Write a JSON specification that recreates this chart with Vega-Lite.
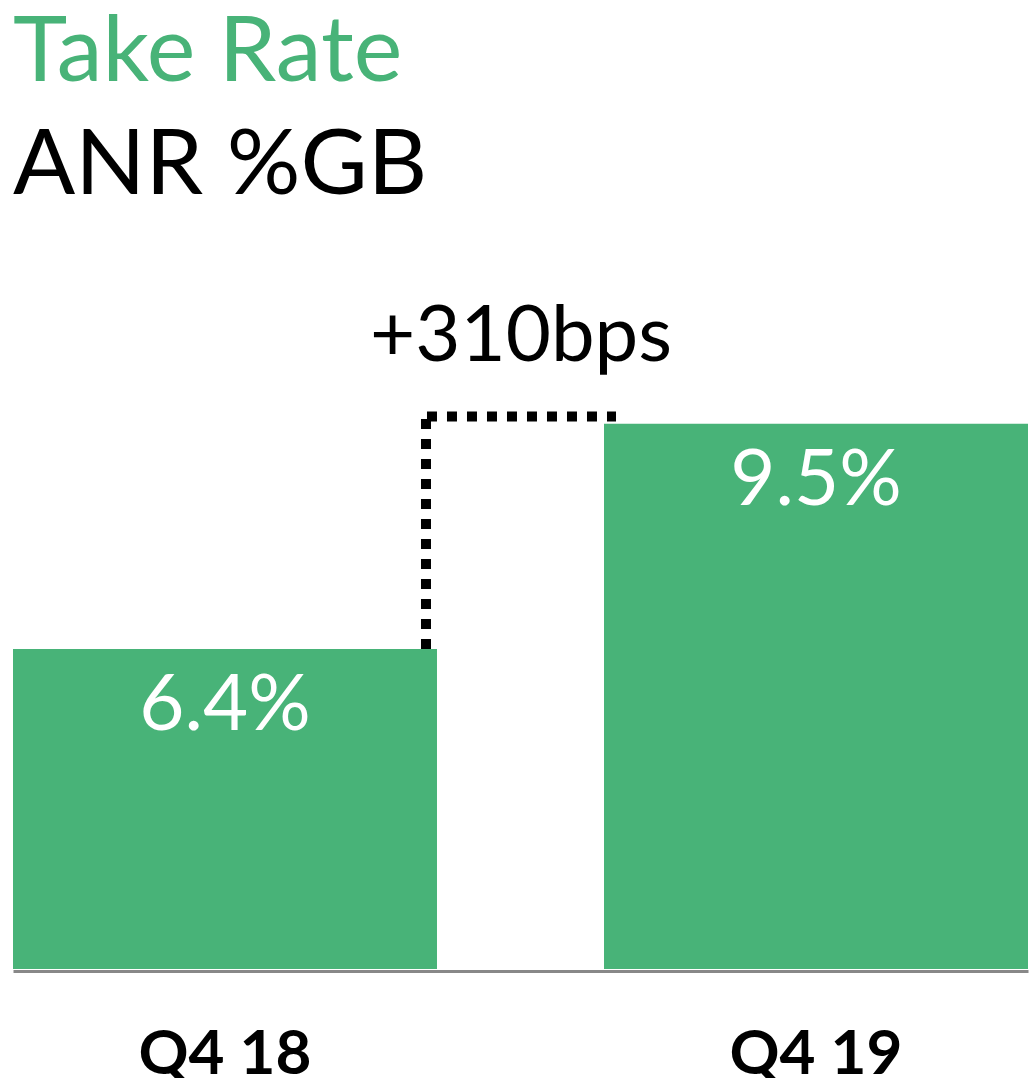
{
  "$schema": "https://vega.github.io/schema/vega-lite/v6.json",
  "width": 1015,
  "height": 618,
  "padding": {"left": 13, "right": 2, "top": 7, "bottom": 0},
  "background": "white",
  "config": {
    "view": {"stroke": null},
    "font": "Lato"
  },
  "title": {
    "text": "Take Rate",
    "subtitle": "ANR %GB",
    "anchor": "start",
    "frame": "group",
    "font": "Lato",
    "fontSize": 92,
    "fontWeight": "normal",
    "color": "#48B378",
    "subtitleFont": "Lato",
    "subtitleFontSize": 92,
    "subtitleColor": "#000000",
    "subtitlePadding": 21,
    "offset": 86
  },
  "datasets": {
    "bars": [
      {"quarter": "Q4 18", "value": 6.4, "label": "6.4%"},
      {"quarter": "Q4 19", "value": 9.5, "label": "9.5%"}
    ],
    "change": [
      {"quarter": "Q4 18", "to": "Q4 19", "start": 6.4, "end": 9.6, "textpos": 10.36, "text": "+310bps"}
    ]
  },
  "layer": [
    {
      "data": {"name": "bars"},
      "mark": {"type": "bar", "color": "#48B378"},
      "encoding": {
        "x": {
          "field": "quarter",
          "type": "nominal",
          "scale": {"paddingInner": 0.2826, "paddingOuter": 0},
          "axis": {
            "title": null,
            "labelAngle": 0,
            "labelFont": "Lato",
            "labelFontSize": 62,
            "labelFontWeight": "bold",
            "labelColor": "#000000",
            "labelPadding": 53,
            "ticks": false,
            "grid": false,
            "domainColor": "#888888",
            "domainWidth": 3,
            "offset": 2,
            "zindex": 1
          }
        },
        "y": {
          "field": "value",
          "type": "quantitative",
          "scale": {"domain": [2, 10.5], "zero": false, "nice": false, "clamp": true},
          "axis": null
        }
      }
    },
    {
      "data": {"name": "change"},
      "mark": {"type": "rule", "color": "#000000", "strokeWidth": 10, "strokeDash": [10, 10], "strokeCap": "butt", "xOffset": -11},
      "encoding": {
        "x": {"field": "quarter", "type": "nominal", "bandPosition": 1},
        "y": {"field": "start", "type": "quantitative"},
        "y2": {"field": "end"}
      }
    },
    {
      "data": {"name": "change"},
      "mark": {"type": "rule", "color": "#000000", "strokeWidth": 10, "strokeDash": [10, 10], "strokeCap": "butt", "xOffset": -10, "x2Offset": -200},
      "encoding": {
        "x": {"field": "quarter", "type": "nominal", "bandPosition": 1},
        "x2": {"field": "to"},
        "y": {"field": "end", "type": "quantitative"}
      }
    },
    {
      "data": {"name": "bars"},
      "mark": {"type": "text", "color": "#FFFFFF", "fontSize": 78, "font": "Lato", "baseline": "alphabetic", "dy": 81},
      "encoding": {
        "x": {"field": "quarter", "type": "nominal"},
        "y": {"field": "value", "type": "quantitative"},
        "text": {"field": "label"}
      }
    },
    {
      "data": {"name": "change"},
      "mark": {"type": "text", "color": "#000000", "fontSize": 78, "font": "Lato", "baseline": "alphabetic", "dx": 84},
      "encoding": {
        "x": {"field": "quarter", "type": "nominal", "bandPosition": 1},
        "y": {"field": "textpos", "type": "quantitative"},
        "text": {"field": "text"}
      }
    }
  ]
}
